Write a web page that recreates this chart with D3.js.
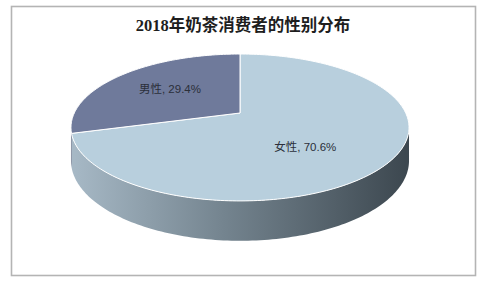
<!DOCTYPE html>
<html>
<head>
<meta charset="utf-8">
<script src="https://cdn.jsdelivr.net/npm/d3@7"></script>
<style>
    html, body { margin: 0; padding: 0; background: #fff; }
    #chart { width: 482px; height: 281px; }
</style>
</head>
<body>
<div id="chart"></div>
<script>
//Datos
const title = '2018年奶茶消费者的性别分布';
const categories = ['女性', '男性'];
const values = [70.6, 29.4];

//Colores fijos
const COLOR_FEMALE = '#b8cfdd',
COLOR_MALE = '#6f7a9b';
const colors = [COLOR_FEMALE, COLOR_MALE];

let width = 482, height = 281;

let svg = d3.select('#chart')
    .append('svg')
        .attr('width', width)
        .attr('height', height);

//Marco
svg.append('rect')
    .attr('x', 11.5)
    .attr('y', 6.5)
    .attr('width', 464)
    .attr('height', 269)
    .attr('fill', '#fff')
    .attr('stroke', '#b4b4b4')
    .attr('stroke-width', 1.6);

//Título
svg.append('text')
    .attr('x', 243)
    .attr('y', 31)
    .attr('text-anchor', 'middle')
    .style('font-family', '"Liberation Serif", "Noto Sans CJK SC", serif')
    .style('font-size', '16.5px')
    .style('font-weight', 'bold')
    .attr('fill', '#1e1e1e')
    .text(title);

//Proyección 3D con perspectiva
let cx = 240, cy = 113,
    rx = 165.7, ry = 70.6,
    k = 0.197, depth = 32;

function project(a, r, dz) {
    let u = r * Math.sin(a), v = -r * Math.cos(a);
    let s = 1 / (1 - k * v);
    return [cx + rx * u * s, cy + ry * v * s + (dz || 0) * s];
}

function arcPoints(a0, a1, r, dz) {
    let n = Math.max(2, Math.ceil(Math.abs(a1 - a0) / 0.02));
    return d3.range(n + 1).map(function(i) {
        return project(a0 + (a1 - a0) * i / n, r, dz);
    });
}

let pie = d3.pie().sort(null).value(function(d) { return d; });
let arcs = pie(values);

let line = d3.line();

//Degradado del lateral
let defs = svg.append('defs');
let grad = defs.append('linearGradient')
    .attr('id', 'sideGrad')
    .attr('gradientUnits', 'userSpaceOnUse')
    .attr('x1', cx - rx).attr('x2', cx + rx)
    .attr('y1', 0).attr('y2', 0);
grad.append('stop').attr('offset', '0%').attr('stop-color', '#a6b8c5');
grad.append('stop').attr('offset', '45%').attr('stop-color', '#74848f');
grad.append('stop').attr('offset', '100%').attr('stop-color', '#3d4850');

let gradM = defs.append('linearGradient')
    .attr('id', 'sideGradM')
    .attr('gradientUnits', 'userSpaceOnUse')
    .attr('x1', cx - rx).attr('x2', cx + rx)
    .attr('y1', 0).attr('y2', 0);
gradM.append('stop').attr('offset', '0%').attr('stop-color', '#525a74');
gradM.append('stop').attr('offset', '100%').attr('stop-color', '#2c3140');

//Lateral visible (entre siluetas)
let aRight = Math.acos(-k), aLeft = 2 * Math.PI - Math.acos(-k);

arcs.forEach(function(d, i) {
    let t0 = Math.max(d.startAngle, aRight),
        t1 = Math.min(d.endAngle, aLeft);
    if (t1 <= t0) return;
    let pts = arcPoints(t0, t1, 1, 0).concat(arcPoints(t1, t0, 1, depth));
    svg.append('path')
        .attr('d', line(pts) + 'Z')
        .attr('fill', i == 0 ? 'url(#sideGrad)' : 'url(#sideGradM)');
});

//Caras superiores
arcs.forEach(function(d, i) {
    let pts = [project(0, 0, 0)].concat(arcPoints(d.startAngle, d.endAngle, 1, 0));
    svg.append('path')
        .attr('d', line(pts) + 'Z')
        .attr('fill', colors[i])
        .attr('stroke', '#fff')
        .attr('stroke-width', 1)
        .attr('stroke-linejoin', 'round');
});

//Etiquetas
let labelR = [0.52, 0.6],
    labelDx = [-8, 4],
    labelDy = [10, 0];

arcs.forEach(function(d, i) {
    let mid = (d.startAngle + d.endAngle) / 2;
    let p = project(mid, labelR[i], 0);
    svg.append('text')
        .attr('x', p[0] + labelDx[i])
        .attr('y', p[1] + labelDy[i])
        .attr('dy', '0.35em')
        .attr('text-anchor', 'middle')
        .style('font-family', '"Liberation Sans", "Noto Sans CJK SC", sans-serif')
        .style('font-size', '11.5px')
        .attr('fill', '#2b2f3a')
        .text(categories[i] + ', ' + d3.format('.1f')(values[i]) + '%');
});
</script>
</body>
</html>
